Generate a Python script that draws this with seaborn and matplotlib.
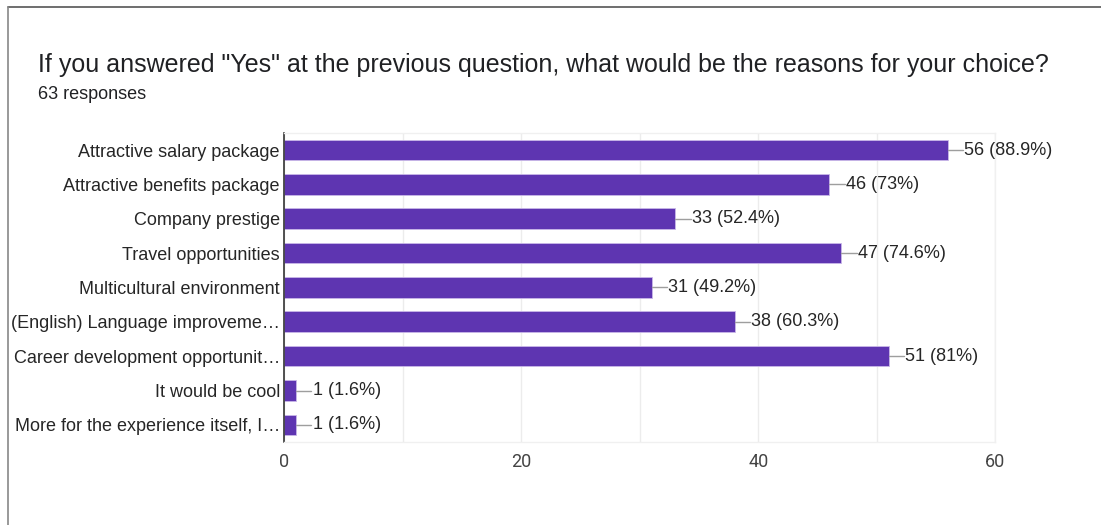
import matplotlib
matplotlib.use("Agg")
import matplotlib.pyplot as plt
from matplotlib.lines import Line2D
import seaborn as sns
import pandas as pd

reasons = [
    "Attractive salary package",
    "Attractive benefits package",
    "Company prestige",
    "Travel opportunities",
    "Multicultural environment",
    "(English) Language improveme\u2026",
    "Career development opportunit\u2026",
    "It would be cool",
    "More for the experience itself, I\u2026",
]
counts = [56, 46, 33, 47, 31, 38, 51, 1, 1]
percents = ["88.9%", "73%", "52.4%", "74.6%", "49.2%", "60.3%", "81%", "1.6%", "1.6%"]
x_ticks = [0, 20, 40, 60]
total_responses = 63

df = pd.DataFrame({"reason": reasons, "count": counts})

sns.set_theme(style="white")
plt.rcParams["font.family"] = ["Liberation Sans", "DejaVu Sans"]

fig = plt.figure(figsize=(11.01, 5.25), dpi=100)
ax = fig.add_axes([0.258, 0.158, 0.646, 0.589])

bar_color = "#5e35b1"
sns.barplot(data=df, x="count", y="reason", orient="h", color=bar_color,
            saturation=1, width=0.6, ax=ax, edgecolor="#c9b8e8", linewidth=0.6)

ax.set_xlim(0, 60)
ax.set_ylim(len(reasons) - 0.5, -0.5)
ax.set_xticks(x_ticks)
ax.set_xticks(range(10, 60, 20), minor=True)
ax.grid(axis="x", which="both", color="#ececec", linewidth=1)
ax.set_axisbelow(True)
ax.set_xlabel("")
ax.set_ylabel("")
ax.tick_params(axis="x", labelsize=13, colors="#444444", length=0, pad=8)
ax.tick_params(axis="y", labelsize=13, colors="#262626", length=0, pad=3)
for lbl in ax.get_xticklabels():
    lbl.set_family(["Roboto", "DejaVu Sans"])

for side in ["top", "right", "bottom"]:
    ax.spines[side].set_color("#f0f0f0")
    ax.spines[side].set_linewidth(1)
ax.spines["left"].set_color("#333333")
ax.spines["left"].set_linewidth(1.2)

# value labels with a short leader line from each bar end
for i, (c, p) in enumerate(zip(counts, percents)):
    ax.plot([c, c + 1.3], [i, i], color="#9e9e9e", linewidth=1, clip_on=False)
    ax.text(c + 1.4, i, f"{c} ({p})", va="center", ha="left",
            fontsize=13, color="#262626", clip_on=False)

fig.text(0.0345, 0.877,
         'If you answered "Yes" at the previous question, what would be the reasons for your choice?',
         fontsize=18, color="#202124", va="center", ha="left")
fig.text(0.0345, 0.82, f"{total_responses} responses",
         fontsize=13, color="#202124", va="center", ha="left")

# card outline
fig.add_artist(Line2D([8 / 1101, 1.0], [1 - 7 / 525, 1 - 7 / 525],
                      color="#555555", linewidth=1.2, transform=fig.transFigure))
fig.add_artist(Line2D([8 / 1101, 8 / 1101], [0.0, 1 - 7 / 525],
                      color="#888888", linewidth=1.2, transform=fig.transFigure))

fig.savefig("out.png", dpi=100, facecolor="white")
